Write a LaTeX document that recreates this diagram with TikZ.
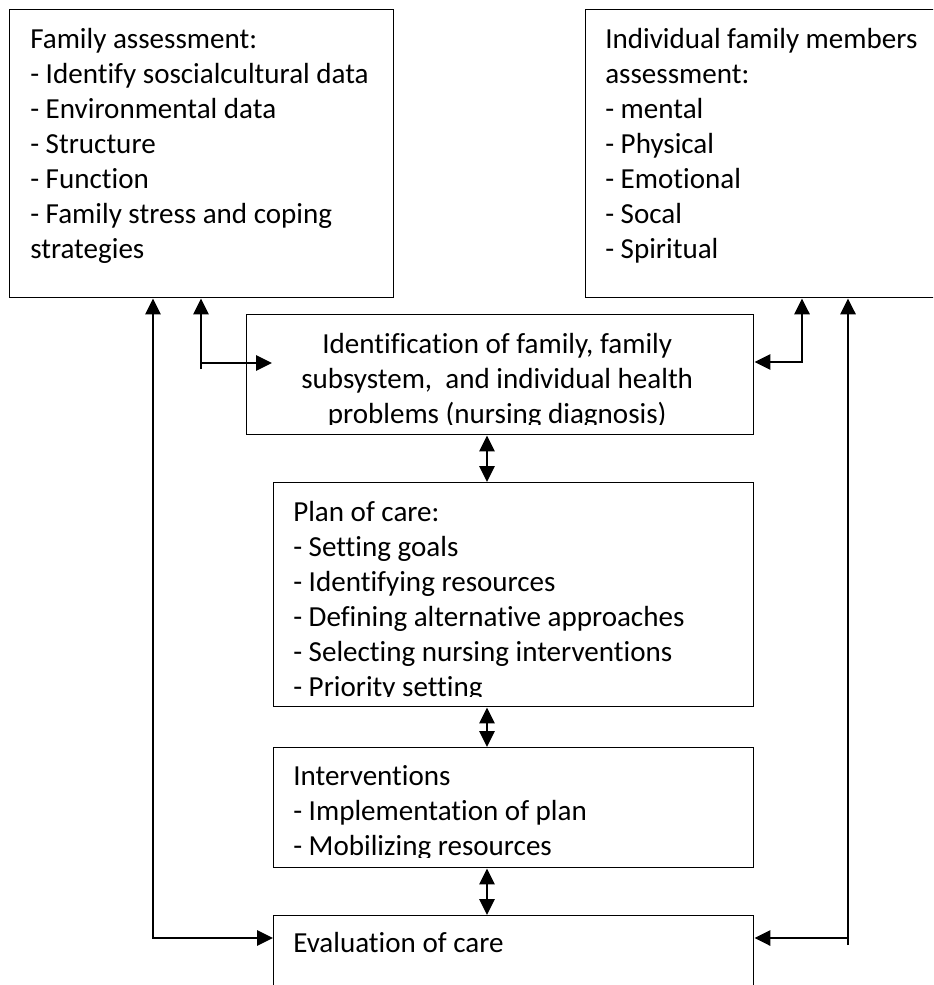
\documentclass[tikz,border=0pt]{standalone}
\usepackage{fontspec}
\setmainfont{Carlito}[Ligatures=NoCommon]
\usepackage{tikz}
\newlength{\unitPx}
\setlength{\unitPx}{0.75pt}
\usetikzlibrary{arrows.meta, positioning, calc}

\begin{document}
\begin{tikzpicture}[
    x=0.75pt, y=-0.75pt,
    boxframe/.style={rectangle, draw=black, line width=1.1pt, inner sep=0pt, anchor=north west},
    txt/.style={inner sep=0pt, font=\fontsize{21.8pt}{26.25pt}\selectfont},
    link/.style={line width=1.7pt, -{Triangle[length=12pt, width=11.5pt]}},
    twoway/.style={line width=1.7pt, {Triangle[length=12pt, width=11.5pt]}-{Triangle[length=12pt, width=11.5pt]}}
]
    \useasboundingbox (0,0) rectangle (933,985);
    \clip (0,0) rectangle (933,985);

    % boxes
    \node[boxframe, minimum width=384\unitPx, minimum height=288\unitPx] (fam) at (9,9) {};
    \node[boxframe, minimum width=349\unitPx, minimum height=288\unitPx] (indiv) at (585,9) {};
    \node[boxframe, minimum width=507\unitPx, minimum height=120\unitPx] (ident) at (246,314) {};
    \node[boxframe, minimum width=480\unitPx, minimum height=224\unitPx] (plan) at (273,482) {};
    \node[boxframe, minimum width=480\unitPx, minimum height=120\unitPx] (interv) at (273,747) {};
    \node[boxframe, minimum width=480\unitPx, minimum height=120\unitPx] (eval) at (273,915) {};

    % texts
    \node[txt, anchor=base west] (famtxt) at ($(fam.north west)+(21,39)$) {\parbox[t]{365\unitPx}{Family assessment:\\- Identify soscialcultural data\\- Environmental data\\- Structure\\- Function\\- Family stress and coping\\strategies}};
    \node[txt, anchor=base west] (indivtxt) at ($(indiv.north west)+(20,39)$) {\parbox[t]{325\unitPx}{Individual family members\\assessment:\\- mental\\- Physical\\- Emotional\\- Socal\\- Spiritual}};
    \begin{scope}
        \clip (ident.north west) rectangle ($(ident.south east)+(0,-11)$);
        \node[txt, anchor=base] (identtxt) at ($(ident.north)+(-3,39)$) {\parbox[t]{490\unitPx}{\centering Identification of family, family\\subsystem,\ \ and individual health\\problems (nursing diagnosis)}};
    \end{scope}
    \begin{scope}
        \clip (plan.north west) rectangle ($(plan.south east)+(0,-11)$);
        \node[txt, anchor=base west] (plantxt) at ($(plan.north west)+(20,39)$) {\parbox[t]{455\unitPx}{Plan of care:\\- Setting goals\\- Identifying resources\\- Defining alternative approaches\\- Selecting nursing interventions\\- Priority setting}};
    \end{scope}
    \begin{scope}
        \clip (interv.north west) rectangle ($(interv.south east)+(0,-11)$);
        \node[txt, anchor=base west] (intervtxt) at ($(interv.north west)+(20,38)$) {\parbox[t]{455\unitPx}{Interventions\\- Implementation of plan\\- Mobilizing resources}};
    \end{scope}
    \node[txt, anchor=base west] (evaltxt) at ($(eval.north west)+(20,37)$) {Evaluation of care};

    % connectors
    \coordinate (ax) at (487,0);
    \coordinate (outl) at (153,938);
    \coordinate (inl) at (201,363);
    \coordinate (inr) at (802,362);
    \coordinate (outr) at (848,938);

    \draw[twoway] (ident.south -| ax) -- (plan.north -| ax);
    \draw[twoway] (plan.south -| ax) -- (interv.north -| ax);
    \draw[twoway] (interv.south -| ax) -- (eval.north -| ax);

    \draw[twoway] (fam.south -| outl) -- (outl) -- (outl -| eval.west);
    \draw[link] ($(inl)+(0,6)$) -- (inl |- fam.south);
    \draw[link] (inl) -- ($(inl -| ident.west)+(26,0)$);

    \draw[twoway] (indiv.south -| inr) -- (inr) -- (inr -| ident.east);
    \draw[link] ($(outr)+(0,7)$) -- (outr |- indiv.south);
    \draw[link] (outr) -- (outr -| eval.east);
\end{tikzpicture}
\end{document}
